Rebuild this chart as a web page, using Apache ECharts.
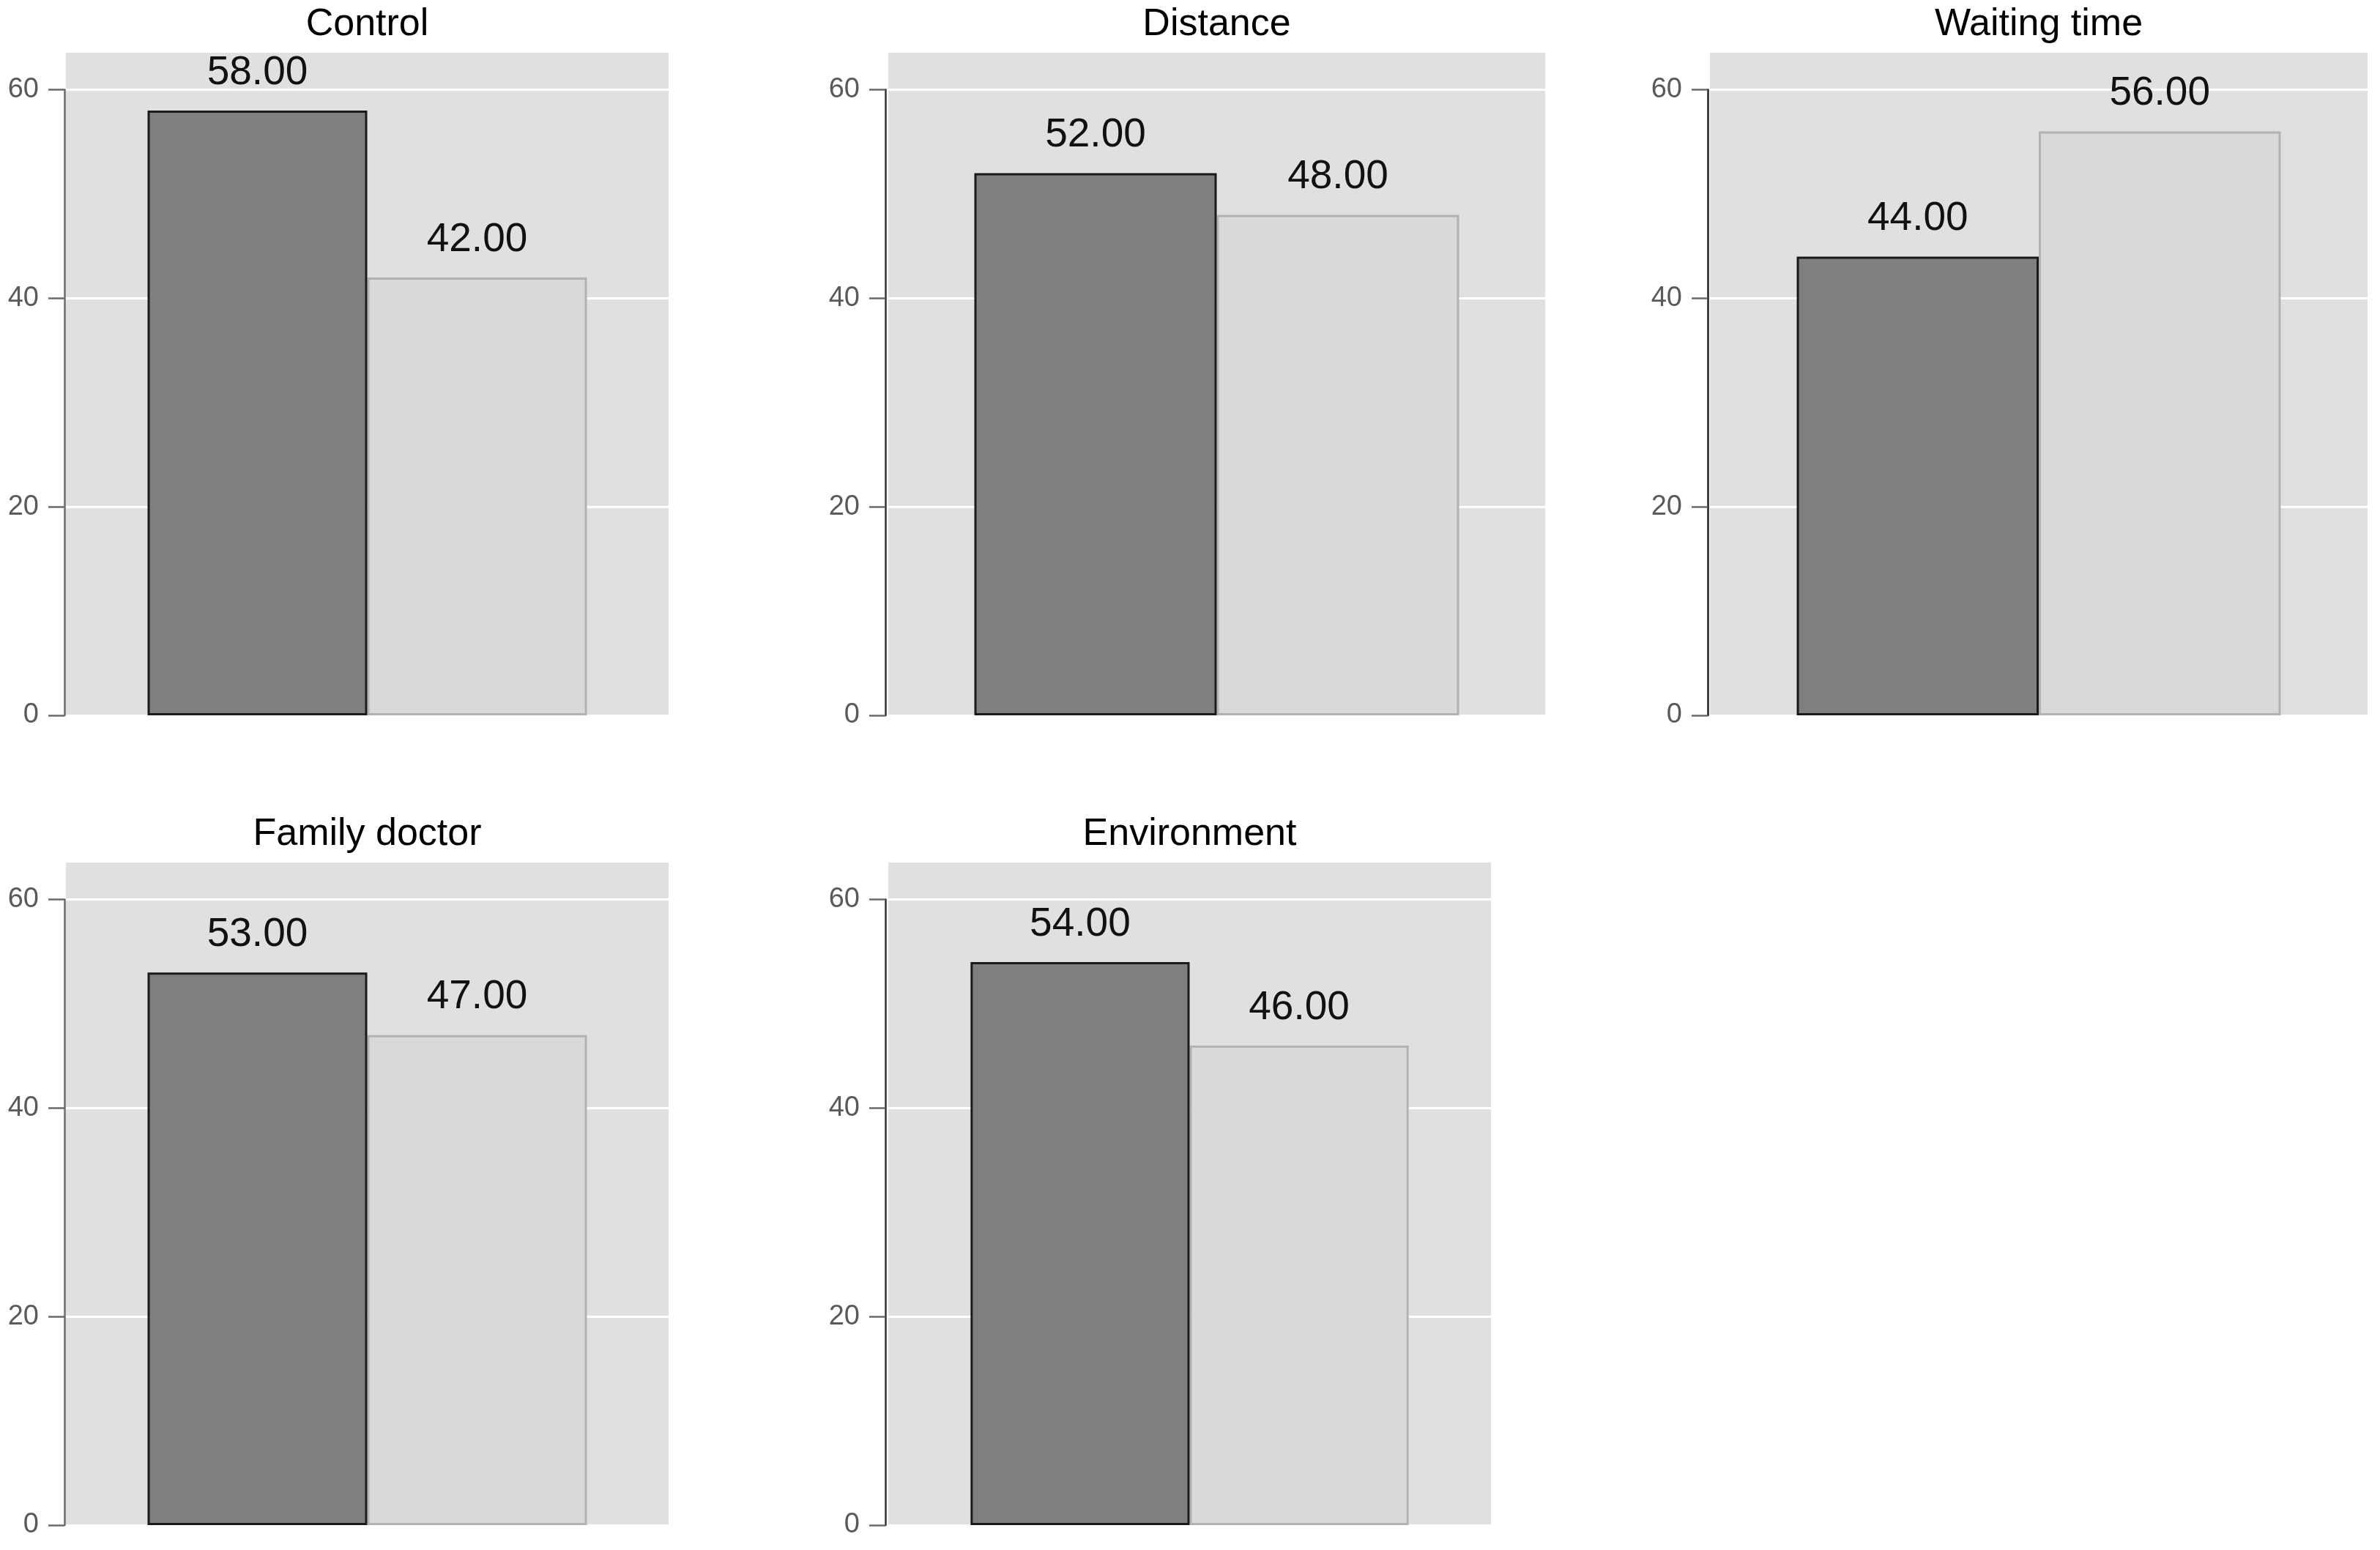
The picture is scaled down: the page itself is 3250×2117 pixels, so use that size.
<!DOCTYPE html>
<html><head><meta charset="utf-8">
<script src="https://cdn.jsdelivr.net/npm/echarts@6/dist/echarts.min.js"></script>
<style>html,body{margin:0;padding:0;background:#fff}#c{width:3250px;height:2117px}</style>
</head><body><div id="c"></div>
<script>
// ---- data ----
const categories = ['Control', 'Distance', 'Waiting time', 'Family doctor', 'Environment'];
const darkValues = [58, 52, 44, 53, 54];
const lightValues = [42, 48, 56, 47, 46];
const tickValues = [0, 20, 40, 60];

// ---- layout (pixels) ----
const yMax = 63.55;
const panels = [
  {left: 90,   width: 823, top: 72,   axisX: 88,   axisColor: '#6a6a6a', gap: '27.1%'},
  {left: 1213, width: 897, top: 72,   axisX: 1209, axisColor: '#333333', gap: '26.2%'},
  {left: 2335, width: 898, top: 72,   axisX: 2332, axisColor: '#222222', gap: '26.4%'},
  {left: 90,   width: 823, top: 1178, axisX: 88,   axisColor: '#6a6a6a', gap: '27.1%'},
  {left: 1213, width: 823, top: 1178, axisX: 1209, axisColor: '#333333', gap: '27.3%'}
];
const plotH = 905; // bg height (0 .. yMax)
const tickMax = tickValues[tickValues.length - 1];
const tickH = plotH * tickMax / yMax;

const grids = [], xAxes = [], yAxes = [], series = [], titles = [];
const font = 'Liberation Sans, Arial, Helvetica, sans-serif';

panels.forEach((p, i) => {
  // plot background grid
  grids.push({left: p.left, top: p.top, width: p.width, height: plotH,
    show: true, backgroundColor: '#e0e0e0', borderWidth: 0});
  // axis-only grid spanning 0..60
  grids.push({left: p.axisX, top: p.top + plotH - tickH, width: 4, height: tickH,
    show: false});
  const gMain = 2 * i, gAxis = 2 * i + 1;
  xAxes.push({gridIndex: gMain, type: 'category', data: [categories[i]],
    axisLine: {show: false}, axisTick: {show: false}, axisLabel: {show: false}, splitLine: {show: false}});
  xAxes.push({gridIndex: gAxis, type: 'category', data: [categories[i]], show: false});
  yAxes.push({gridIndex: gMain, type: 'value', min: 0, max: yMax, interval: 20,
    axisLine: {show: false}, axisTick: {show: false}, axisLabel: {show: false},
    splitLine: {show: true, showMaxLine: false, lineStyle: {color: '#ffffff', width: 3}}});
  yAxes.push({gridIndex: gAxis, type: 'value', min: tickValues[0], max: tickMax, interval: 20,
    axisLine: {show: true, lineStyle: {color: p.axisColor, width: 2.5}},
    axisTick: {show: true, length: 22, lineStyle: {color: '#6a6a6a', width: 2.5}},
    axisLabel: {show: true, margin: 35, fontSize: 38, color: '#5a5a5a', fontFamily: font,
      customValues: tickValues, padding: [4, 0, 0, 0]},
    splitLine: {show: false}});
  const xIdx = 2 * i, yIdx = 2 * i;
  const lbl = {show: true, position: 'top', distance: 24, fontSize: 55, color: '#111111',
    fontFamily: font, formatter: (d) => d.value.toFixed(2)};
  series.push({type: 'bar', name: 'Group 1', xAxisIndex: xIdx, yAxisIndex: yIdx,
    data: [darkValues[i]], barGap: '0%', barCategoryGap: p.gap, z: 3,
    itemStyle: {color: '#7f7f7f', borderColor: '#1a1a1a', borderWidth: 3}, label: lbl});
  series.push({type: 'bar', name: 'Group 2', xAxisIndex: xIdx, yAxisIndex: yIdx,
    data: [lightValues[i]], barGap: '0%', barCategoryGap: p.gap, z: 2,
    itemStyle: {color: '#d9d9d9', borderColor: '#b2b2b2', borderWidth: 3}, label: lbl});
  titles.push({text: categories[i], left: p.left + p.width / 2, textAlign: 'center',
    top: p.top - 64, padding: 0,
    textStyle: {fontSize: 52, fontWeight: 'normal', color: '#000000', fontFamily: font}});
});

const chart = echarts.init(document.getElementById('c'), null, {renderer: 'canvas'});
chart.setOption({
  backgroundColor: '#ffffff',
  animation: false,
  title: titles,
  grid: grids,
  xAxis: xAxes,
  yAxis: yAxes,
  series: series
});
</script>
</body></html>
